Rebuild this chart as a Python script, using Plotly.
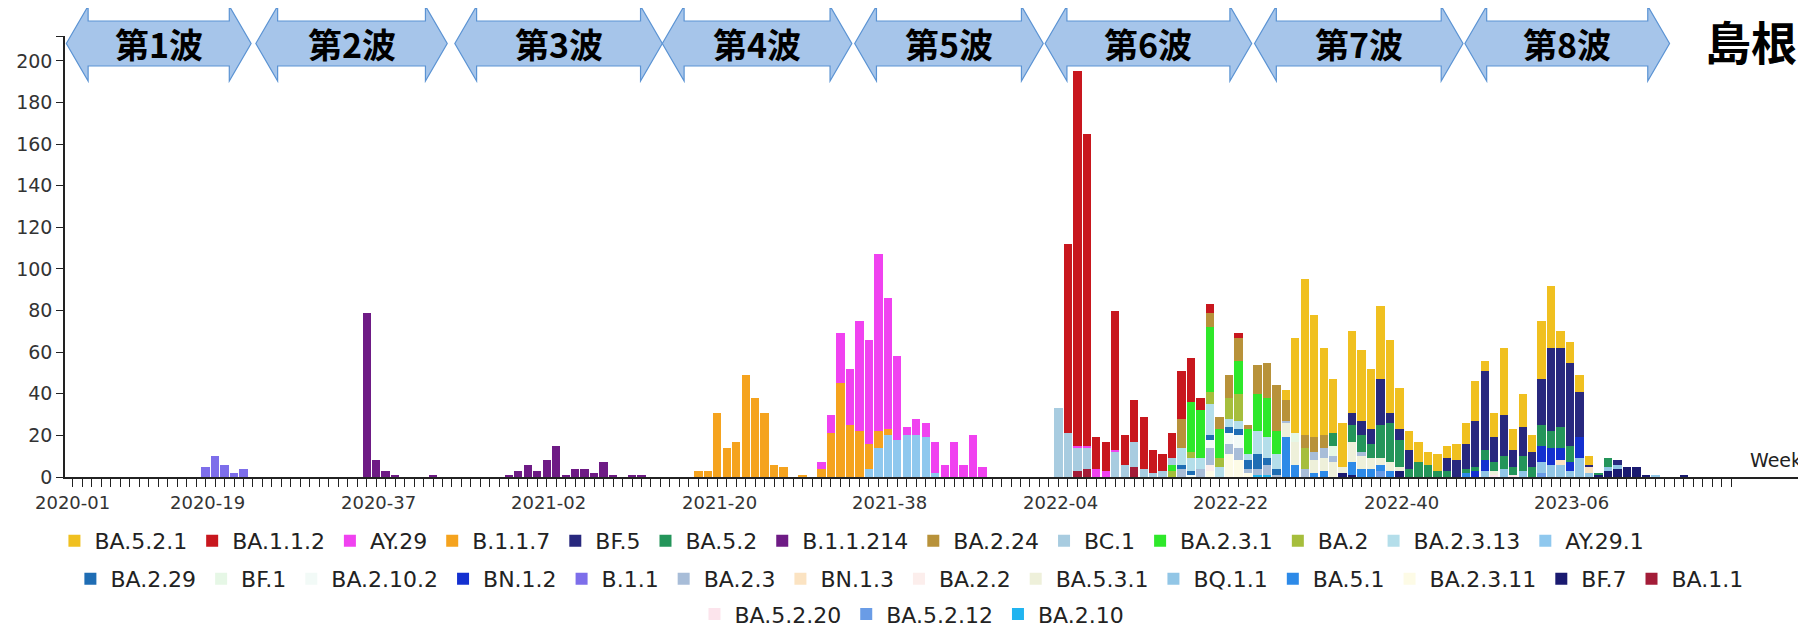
import plotly.graph_objects as go

# ---------------- categories ----------------
YEAR_WEEKS = [(2020, 53), (2021, 52), (2022, 52), (2023, 19)]
WEEKS = [f"{y}-{w:02d}" for y, n in YEAR_WEEKS for w in range(1, n + 1)]
LABELED_WEEKS = ["2020-01", "2020-19", "2020-37", "2021-02", "2021-20",
                 "2021-38", "2022-04", "2022-22", "2022-40", "2023-06"]
Y_TICKS = list(range(0, 201, 20))

# legend order (= stacking order, top of stack first)
LINEAGES = ["BA.5.2.1", "BA.1.1.2", "AY.29", "B.1.1.7", "BF.5", "BA.5.2", "B.1.1.214",
            "BA.2.24", "BC.1", "BA.2.3.1", "BA.2", "BA.2.3.13", "AY.29.1",
            "BA.2.29", "BF.1", "BA.2.10.2", "BN.1.2", "B.1.1", "BA.2.3", "BN.1.3",
            "BA.2.2", "BA.5.3.1", "BQ.1.1", "BA.5.1", "BA.2.3.11", "BF.7", "BA.1.1",
            "BA.5.2.20", "BA.5.2.12", "BA.2.10"]
COLORS = ["#F0C020", "#C8171E", "#F042F0", "#F5A31E", "#28287E", "#24955A", "#6E1B85",
          "#B8923A", "#A8CCE0", "#2EE82A", "#A6BE3C", "#B4DEEA", "#8FC8EE",
          "#1F6DB4", "#E6F7E6", "#F2FAF7", "#1430D0", "#7D6EEA", "#A8BDD8", "#FBE3C2",
          "#FCEEEC", "#EEF0DA", "#92C6E6", "#2D8AE8", "#FDFBE6", "#1A1A70", "#A31D38",
          "#FCE4EC", "#6A9CE6", "#20B4F0"]
LEGEND_ROW = [1] * 13 + [2] * 14 + [3] * 3

# ---------------- weekly counts: first week + consecutive weeks ----------------
BA_5_2_1_FROM = "2022-24"
BA_5_2_1 = [5, 46, 75, 59, 42, 26, 21, 39, 34, 29, 35, 35, 20, 9, 10, 6, 8, 6, 8, 10,
            19, 5, 12, 32, 10, 16, 8, 28, 30, 8, 10, 8, 4]
BA_1_1_2_FROM = "2022-01"
BA_1_1_2 = [91, 180, 150, 15, 14, 67, 14, 20, 25, 11, 8, 12, 23, 21, 6, 4, 0, 0, 2]
AY_29_FROM = "2021-27"
AY_29 = [3, 9, 24, 27, 53, 50, 85, 63, 40, 4, 8, 7, 15, 6, 17, 6, 20, 5,
         0, 0, 0, 0, 0, 0, 0, 0, 0, 1, 1, 4, 3, 1]
B_1_1_7_FROM = "2021-14"
B_1_1_7 = [3, 3, 31, 14, 17, 49, 38, 31, 6, 5, 0, 1, 0, 4, 21, 45, 25, 22, 12, 8, 3]
BF_5_FROM = "2022-31"
BF_5 = [6, 7, 7, 22, 5, 5, 9, 0, 0, 0, 6, 8, 12, 22, 38, 12, 20, 8, 14, 7, 22, 40, 38,
        40, 22, 1, 0, 0, 2]
BA_5_2_FROM = "2022-29"
BA_5_2 = [6, 0, 8, 8, 7, 16, 19, 13, 4, 7, 6, 3, 3, 0, 2, 2, 5, 4, 6, 4, 7, 5, 10, 8,
          10, 8, 0, 0, 1, 4]
B_1_1_214_FROM = "2020-32"
B_1_1_214 = [79, 8, 3, 1, 0, 0, 0, 1, 0, 0, 0, 0, 0, 0, 0, 1, 3, 6, 3, 8, 15, 1, 4, 4,
             2, 7, 1, 0, 1, 1]
BA_2_24_FROM = "2022-13"
BA_2_24 = [14, 0, 0, 7, 6, 11, 11, 2, 14, 17, 22, 10, 0, 6, 7, 6]
BC_1_FROM = "2021-52"
BC_1 = [33, 21, 11, 10, 0, 0, 12, 6, 12, 4, 2, 3, 3]
BA_2_3_1_FROM = "2022-12"
BA_2_3_1 = [3, 0, 24, 23, 31, 14, 0, 16, 12, 18, 19, 11]
BA_2_FROM = "2022-12"
BA_2 = [3, 0, 3, 0, 6, 4, 10, 13, 0, 0, 0, 0, 0, 0, 10]
BA_2_3_13_FROM = "2022-13"
BA_2_3_13 = [8, 6, 5, 15, 5, 4, 4, 3, 11, 10, 7]
AY_29_1_FROM = "2021-32"
AY_29_1 = [4, 14, 20, 18, 20, 20, 19, 2]
BA_2_29_FROM = "2022-13"
BA_2_29 = [2, 2, 0, 2, 0, 3, 3, 4, 7, 3, 3]
BF_1_FROM = "2022-25"
BF_1 = [4, 0, 0, 0, 5]
BA_2_10_2_FROM = "2022-14"
BA_2_10_2 = [1, 0, 4, 0, 5, 6]
BN_1_2_FROM = "2022-44"
BN_1_2 = [3, 5, 0, 0, 0, 0, 0, 8, 8, 6, 4, 10]
B_1_1_FROM = "2020-15"
B_1_1 = [5, 10, 6, 2, 4]
BA_2_3_FROM = "2022-13"
BA_2_3 = [4, 0, 4, 8, 0, 5, 6, 2, 3, 5, 1, 1, 0, 4, 4, 5, 3, 0, 0, 2]
BN_1_3_FROM = "2023-01"
BN_1_3 = [2, 0, 0, 3]
BA_2_2_FROM = "2022-16"
BA_2_2 = [3]
BA_5_3_1_FROM = "2022-24"
BA_5_3_1 = [7, 11, 0, 6, 6, 7, 3, 10, 6, 5, 3, 4, 2, 0, 0, 0, 0, 0, 0, 0, 0, 0, 2]
BQ_1_1_FROM = "2022-45"
BQ_1_1 = [3, 0, 4, 0, 3, 0, 5, 6, 6, 3, 9, 2, 0, 2, 2, 0, 0, 0, 1]
BA_5_1_FROM = "2022-24"
BA_5_1 = [19, 6, 0, 2, 3, 0, 0, 6, 4, 4, 3, 3, 0, 0, 0, 0, 0, 0, 0, 2]
BA_2_3_11_FROM = "2022-16"
BA_2_3_11 = [3, 0, 11, 8, 2]
BF_7_FROM = "2022-30"
BF_7 = [2, 1, 0, 0, 0, 0, 3, 0, 0, 0, 0, 0, 0, 0, 0, 0, 0, 0, 0, 0, 0, 0, 0, 0, 0, 0,
        0, 1, 3, 4, 5, 5, 1, 0, 0, 0, 1]
BA_1_1_FROM = "2022-02"
BA_1_1 = [3, 4, 0, 0, 0, 0, 5]
BA_5_2_20_FROM = "2022-46"
BA_5_2_20 = [1, 0, 1]
BA_5_2_12_FROM = "2022-34"
BA_5_2_12 = [3, 0, 0, 0, 0, 0, 0, 0, 0, 0, 0, 0, 0, 0, 0, 0, 0, 2]
BA_2_10_FROM = "2022-21"
BA_2_10 = [1, 1]

SERIES = {
    "BA.5.2.1": (BA_5_2_1_FROM, BA_5_2_1), "BA.1.1.2": (BA_1_1_2_FROM, BA_1_1_2),
    "AY.29": (AY_29_FROM, AY_29), "B.1.1.7": (B_1_1_7_FROM, B_1_1_7),
    "BF.5": (BF_5_FROM, BF_5), "BA.5.2": (BA_5_2_FROM, BA_5_2),
    "B.1.1.214": (B_1_1_214_FROM, B_1_1_214), "BA.2.24": (BA_2_24_FROM, BA_2_24),
    "BC.1": (BC_1_FROM, BC_1), "BA.2.3.1": (BA_2_3_1_FROM, BA_2_3_1),
    "BA.2": (BA_2_FROM, BA_2), "BA.2.3.13": (BA_2_3_13_FROM, BA_2_3_13),
    "AY.29.1": (AY_29_1_FROM, AY_29_1), "BA.2.29": (BA_2_29_FROM, BA_2_29),
    "BF.1": (BF_1_FROM, BF_1), "BA.2.10.2": (BA_2_10_2_FROM, BA_2_10_2),
    "BN.1.2": (BN_1_2_FROM, BN_1_2), "B.1.1": (B_1_1_FROM, B_1_1),
    "BA.2.3": (BA_2_3_FROM, BA_2_3), "BN.1.3": (BN_1_3_FROM, BN_1_3),
    "BA.2.2": (BA_2_2_FROM, BA_2_2), "BA.5.3.1": (BA_5_3_1_FROM, BA_5_3_1),
    "BQ.1.1": (BQ_1_1_FROM, BQ_1_1), "BA.5.1": (BA_5_1_FROM, BA_5_1),
    "BA.2.3.11": (BA_2_3_11_FROM, BA_2_3_11), "BF.7": (BF_7_FROM, BF_7),
    "BA.1.1": (BA_1_1_FROM, BA_1_1), "BA.5.2.20": (BA_5_2_20_FROM, BA_5_2_20),
    "BA.5.2.12": (BA_5_2_12_FROM, BA_5_2_12), "BA.2.10": (BA_2_10_FROM, BA_2_10),
}

# wave arrows (tip-to-tip, in week-position units) and labels
WAVE_NAMES = ["第1波", "第2波", "第3波", "第4波", "第5波", "第6波", "第7波", "第8波"]
WAVE_TIPS = [(-0.7, 18.8), (19.3, 39.5), (40.3, 62.2), (62.2, 82.2),
             (82.5, 102.4), (102.6, 124.4), (124.7, 146.7), (146.9, 168.5)]
REGION = "島根"


def expand(start, values):
    out = [0] * len(WEEKS)
    i0 = WEEKS.index(start)
    for k, v in enumerate(values):
        out[i0 + k] = v
    return out


LAT = "DejaVu Sans, Liberation Sans, Arial, sans-serif"
CJK = "Noto Sans CJK JP, Noto Sans CJK SC, sans-serif"
legend_ids = {1: "legend", 2: "legend2", 3: "legend3"}

fig = go.Figure()
for name, color, row in reversed(list(zip(LINEAGES, COLORS, LEGEND_ROW))):
    start, vals = SERIES[name]
    fig.add_trace(go.Bar(
        x=WEEKS, y=expand(start, vals), name=name,
        marker=dict(color=color, line=dict(width=0)),
        legend=legend_ids[row],
    ))

XR = (-0.84, 182.9)
Y_TOP_VALUE = 212


def xp(v):
    return (v - XR[0]) / (XR[1] - XR[0])


# arrow geometry in paper units
Y_TOP, Y_STOP, Y_MID, Y_SBOT, Y_BOT = 1.068, 1.034, 0.983, 0.932, 0.898
HEAD = 2.3
shapes = []
annotations = []
for (a, b), label in zip(WAVE_TIPS, WAVE_NAMES):
    pts = [(a, Y_MID), (a + HEAD, Y_TOP), (a + HEAD, Y_STOP), (b - HEAD, Y_STOP),
           (b - HEAD, Y_TOP), (b, Y_MID), (b - HEAD, Y_BOT), (b - HEAD, Y_SBOT),
           (a + HEAD, Y_SBOT), (a + HEAD, Y_BOT)]
    path = "M " + " L ".join(f"{xp(x):.5f},{y:.4f}" for x, y in pts) + " Z"
    shapes.append(dict(type="path", xref="paper", yref="paper", path=path,
                       fillcolor="#A6C5EA", line=dict(color="#5B93D3", width=1.2),
                       layer="above"))
    annotations.append(dict(x=xp((a + b) / 2), y=Y_MID, xref="paper", yref="paper",
                            text=f"<b>{label}</b>", showarrow=False,
                            font=dict(family=CJK, size=34, color="#000000"),
                            xanchor="center", yanchor="middle"))

annotations.append(dict(x=0.9684, y=0.991, xref="paper", yref="paper",
                        text=f"<b>{REGION}</b>", showarrow=False,
                        font=dict(family=CJK, size=46, color="#000000"),
                        xanchor="center", yanchor="middle"))
annotations.append(dict(x=1.0, y=0.038, xref="paper", yref="paper", xshift=-2,
                        text="Week", showarrow=False,
                        font=dict(family=LAT, size=19, color="#222222"),
                        xanchor="right", yanchor="middle"))

# week labels under the axis (placed as in the reference: shifted left of their tick)
for w in LABELED_WEEKS:
    annotations.append(dict(x=w, xref="x", y=0, yref="paper", yanchor="top",
                            xanchor="center", yshift=-13,
                            xshift=0 if w == LABELED_WEEKS[0] else -36,
                            text=w, showarrow=False,
                            font=dict(family=LAT, size=18, color="#333333")))

leg_common = dict(orientation="h", xanchor="center", yanchor="middle",
                  font=dict(family=LAT, size=22, color="#222222"),
                  traceorder="reversed", bgcolor="rgba(0,0,0,0)")

# the page adds an 8 px body margin; the figure is sized/offset to compensate
fig.update_layout(
    width=1798, height=623, autosize=False,
    margin=dict(l=57, r=0, t=28, b=154, autoexpand=False),
    paper_bgcolor="white", plot_bgcolor="white",
    barmode="stack", bargap=0.12,
    shapes=shapes, annotations=annotations,
    legend=dict(x=0.452, y=-0.145, **leg_common),
    legend2=dict(x=0.485, y=-0.231, **leg_common),
    legend3=dict(x=0.4865, y=-0.311, **leg_common),
    xaxis=dict(type="category", range=list(XR), tickmode="array", tickvals=WEEKS,
               ticktext=["" for _ in WEEKS],
               tickangle=0, ticks="outside", ticklen=8, tickwidth=1.3,
               tickcolor="#222222", showline=True, linecolor="#222222", linewidth=1.5,
               showgrid=False, tickfont=dict(family=LAT, size=18, color="#333333")),
    yaxis=dict(range=[0, Y_TOP_VALUE], tickmode="array",
               tickvals=Y_TICKS + [Y_TOP_VALUE - 0.3],
               ticktext=[str(v) for v in Y_TICKS] + [""], ticks="outside",
               ticklen=7, tickwidth=1.3, tickcolor="#222222", showline=True,
               linecolor="#222222", linewidth=1.5, showgrid=False, zeroline=False,
               tickfont=dict(family=LAT, size=19, color="#333333")),
    showlegend=True,
)

fig.write_html("out.html")
